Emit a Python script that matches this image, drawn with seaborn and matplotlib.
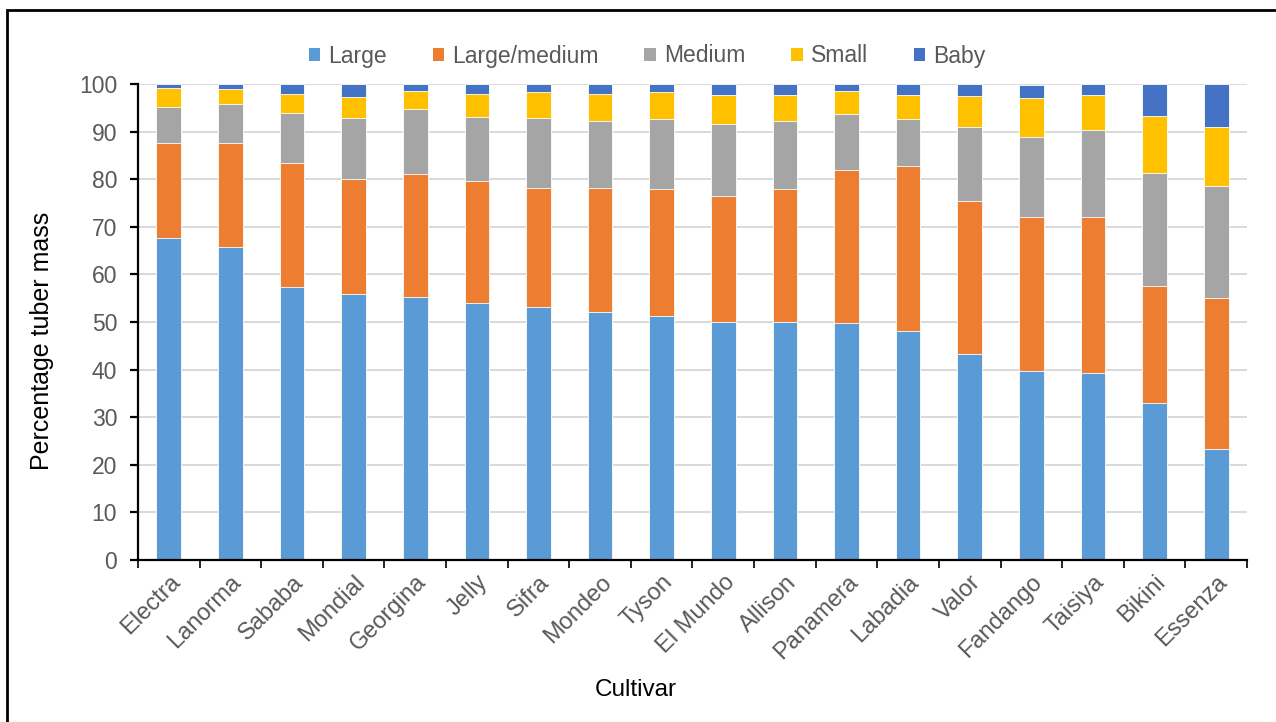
import matplotlib
matplotlib.use("Agg")
import matplotlib.pyplot as plt
from matplotlib.patches import Rectangle, Patch
import numpy as np
import pandas as pd
import seaborn as sns

cultivars = ["Electra", "Lanorma", "Sababa", "Mondial", "Georgina", "Jelly", "Sifra",
             "Mondeo", "Tyson", "El Mundo", "Allison", "Panamera", "Labadia", "Valor",
             "Fandango", "Taisiya", "Bikini", "Essenza"]
large = [67.6, 65.8, 57.3, 55.8, 55.2, 53.9, 53.2, 52.1, 51.2, 50.1, 50.1, 49.8, 48.1,
         43.2, 39.7, 39.2, 32.9, 23.3]
large_medium = [20.1, 21.9, 26.0, 24.2, 25.9, 25.7, 25.0, 26.1, 26.7, 26.4, 27.8, 32.1,
                34.7, 32.2, 32.4, 32.9, 24.7, 31.7]
medium = [7.4, 8.2, 10.7, 12.8, 13.7, 13.5, 14.7, 14.0, 14.7, 15.2, 14.3, 11.9, 9.8,
          15.6, 16.7, 18.2, 23.7, 23.5]
small = [4.0, 3.0, 4.0, 4.5, 3.8, 4.9, 5.5, 5.8, 5.8, 6.0, 5.5, 4.8, 5.1, 6.4, 8.3,
         7.4, 12.0, 12.5]
baby = [0.9, 1.1, 2.0, 2.7, 1.4, 2.0, 1.6, 2.0, 1.6, 2.3, 2.3, 1.4, 2.3, 2.6, 2.6,
        2.3, 6.7, 9.0]

size_classes = ["Large", "Large/medium", "Medium", "Small", "Baby"]
class_colors = ["#5B9BD5", "#ED7D31", "#A5A5A5", "#FFC000", "#4472C4"]
y_ticks = list(range(0, 101, 10))

df = pd.DataFrame({"Cultivar": cultivars, "Large": large, "Large/medium": large_medium,
                   "Medium": medium, "Small": small, "Baby": baby})
cum = df[size_classes].cumsum(axis=1)
cum["Cultivar"] = df["Cultivar"]

sns.set_theme(style="white")
plt.rcParams["font.family"] = ["Liberation Sans", "DejaVu Sans"]

fig = plt.figure(figsize=(12.76, 7.22), dpi=100)
ax = fig.add_axes([138 / 1276, 1 - 560 / 722, (1247 - 138) / 1276, (560 - 84) / 722])

# stacked columns: draw cumulative totals from the top class down
for name, color in reversed(list(zip(size_classes, class_colors))):
    sns.barplot(data=cum, x="Cultivar", y=name, color=color, width=0.4,
                edgecolor="white", linewidth=0.6, ax=ax, zorder=3, saturation=1)

ax.set_ylim(0, 100)
ax.set_xlim(-0.5, len(cultivars) - 0.5)
ax.set_yticks(y_ticks)
ax.set_yticklabels([str(t) for t in y_ticks])
ax.yaxis.grid(True, color="#D9D9D9", linewidth=1.4, zorder=0)
ax.xaxis.grid(False)
ax.set_axisbelow(True)

for side in ["top", "right"]:
    ax.spines[side].set_visible(False)
for side in ["left", "bottom"]:
    ax.spines[side].set_color("black")
    ax.spines[side].set_linewidth(1.6)
    ax.spines[side].set_zorder(5)

ax.tick_params(axis="y", which="major", direction="out", length=6, width=1.6,
               color="black", labelsize=16.5, labelcolor="#595959", pad=9, left=True)
# category ticks sit between the columns
ax.set_xticks(np.arange(-0.5, len(cultivars), 1.0), minor=True)
ax.tick_params(axis="x", which="minor", direction="out", length=6, width=1.2,
               color="black", bottom=True)
ax.tick_params(axis="x", which="major", length=0, pad=8, bottom=False)
ax.set_xticks(range(len(cultivars)))
ax.set_xticklabels(cultivars, rotation=45, ha="right", rotation_mode="anchor",
                   fontsize=17, color="#595959")

ax.set_xlabel("")
ax.set_ylabel("")
fig.text(42 / 1276, 1 - 341 / 722, "Percentage tuber mass", rotation=90,
         ha="center", va="center", fontsize=18, color="black")
fig.text(636 / 1276, 1 - 690 / 722, "Cultivar", ha="center", va="center",
         fontsize=17.5, color="black")

handles = [Patch(facecolor=c, edgecolor="none") for c in class_colors]
fig.legend(handles, size_classes, loc="center", bbox_to_anchor=(647 / 1276, 1 - 56 / 722),
           ncol=5, frameon=False, fontsize=16.5, handlelength=0.5, handleheight=0.5,
           handletextpad=0.35, columnspacing=2.0, labelcolor="#595959")

# chart area border (open on the right and bottom)
fig.patches.append(Rectangle((7 / 1276, -0.05), 1.05, 1.05 - 10 / 722,
                             transform=fig.transFigure, fill=False,
                             edgecolor="black", linewidth=2.0, zorder=10))

fig.savefig("out.png", dpi=100)
